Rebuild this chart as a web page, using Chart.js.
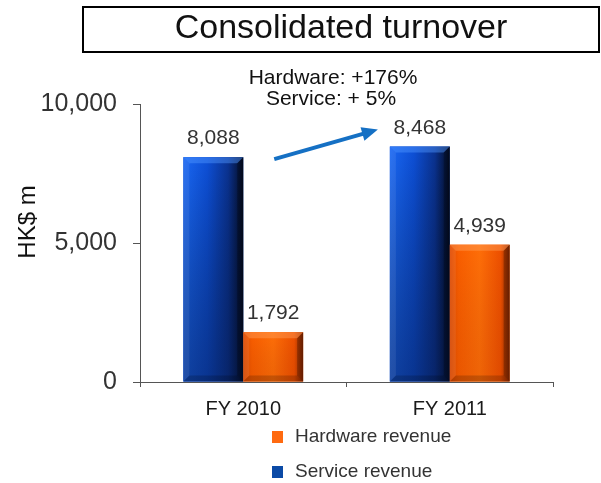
<!DOCTYPE html>
<html>
<head>
<meta charset="utf-8">
<title>Consolidated turnover</title>
<script src="https://cdn.jsdelivr.net/npm/chart.js@4.4.1/dist/chart.umd.min.js"></script>
<style>
  html, body { margin: 0; padding: 0; background: #fff; }
  #wrap { position: relative; width: 601px; height: 483px; overflow: hidden; }
  #title {
    position: absolute; left: 82px; top: 6px; width: 518px; height: 47px;
    box-sizing: border-box; border: 2px solid #000;
    font: 34px "Liberation Sans", Arial, sans-serif; color: #111;
    text-align: center; line-height: 37px;
  }
  #chart { position: absolute; left: 0; top: 0; }
</style>
</head>
<body>
<div id="wrap">
  <canvas id="chart" width="601" height="483"></canvas>
  <div id="title">Consolidated turnover</div>
</div>
<script>
const FONT = '"Liberation Sans", Arial, sans-serif';

const categories = ['FY 2010', 'FY 2011'];
const serviceRevenue = [8088, 8468];
const hardwareRevenue = [1792, 4939];
const yTicks = [0, 5000, 10000];
const growthNotes = ['Hardware: +176%', 'Service: + 5%'];

// face shading for the bevelled bars
const shades = {
  service: {
    base: '#0d47c0',
    stops: [[0, '#1a68f4'], [0.4, '#0d4fd6'], [0.75, '#0a3290'], [1, '#040c22']],
    top: 'rgba(80,150,255,0.45)',
    fade: 'rgba(5,20,60,0.45)'
  },
  hardware: {
    base: '#ff6400',
    stops: [[0, '#e04a00'], [0.15, '#fa5e00'], [0.5, '#ff6e08'], [0.85, '#ee5000'], [1, '#8a2800']],
    top: 'rgba(255,160,90,0.45)',
    fade: 'rgba(120,30,0,0.12)'
  }
};

const fmt = v => v.toLocaleString('en-US');

const bevelBars = {
  id: 'bevelBars',
  afterDatasetsDraw(chart) {
    const ctx = chart.ctx;
    chart.data.datasets.forEach((ds, i) => {
      const pal = shades[ds.key];
      chart.getDatasetMeta(i).data.forEach((bar, j) => {
        const {x, y, base, width} = bar.getProps(['x', 'y', 'base', 'width'], true);
        const l = x - width / 2, r = x + width / 2, t = y, b = base, e = 6;
        ctx.save();
        const g = ctx.createLinearGradient(l, 0, r, 0);
        pal.stops.forEach(s => g.addColorStop(s[0], s[1]));
        ctx.fillStyle = g;
        ctx.fillRect(l, t, width, b - t);
        // darker towards the baseline
        const v = ctx.createLinearGradient(0, t, 0, b);
        v.addColorStop(0, 'rgba(0,0,0,0)');
        v.addColorStop(1, pal.fade);
        ctx.fillStyle = v;
        ctx.fillRect(l, t, width, b - t);
        // top bevel
        ctx.fillStyle = pal.top;
        ctx.beginPath();
        ctx.moveTo(l, t); ctx.lineTo(r, t); ctx.lineTo(r - e, t + e); ctx.lineTo(l + e, t + e);
        ctx.closePath(); ctx.fill();
        // left bevel
        ctx.fillStyle = 'rgba(255,255,255,0.08)';
        ctx.beginPath();
        ctx.moveTo(l, t); ctx.lineTo(l + e, t + e); ctx.lineTo(l + e, b - e); ctx.lineTo(l, b);
        ctx.closePath(); ctx.fill();
        // right and bottom bevels
        ctx.fillStyle = 'rgba(0,0,0,0.25)';
        ctx.beginPath();
        ctx.moveTo(r, t); ctx.lineTo(r - e, t + e); ctx.lineTo(r - e, b - e); ctx.lineTo(r, b);
        ctx.closePath(); ctx.fill();
        ctx.fillStyle = 'rgba(0,0,0,0.18)';
        ctx.beginPath();
        ctx.moveTo(l, b); ctx.lineTo(l + e, b - e); ctx.lineTo(r - e, b - e); ctx.lineTo(r, b);
        ctx.closePath(); ctx.fill();

        // value label
        ctx.fillStyle = '#333';
        ctx.font = '21px ' + FONT;
        ctx.textAlign = 'center';
        ctx.textBaseline = 'alphabetic';
        ctx.fillText(fmt(ds.data[j]), x, t - 13);
        ctx.restore();
      });
    });
  },
  afterDraw(chart) {
    const ctx = chart.ctx;
    const yScale = chart.scales.y;
    const svc = chart.getDatasetMeta(0).data;
    ctx.save();

    // growth notes and arrow between the service bars
    ctx.fillStyle = '#111';
    ctx.font = '21px ' + FONT;
    ctx.textAlign = 'center';
    ctx.textBaseline = 'middle';
    ctx.fillText(growthNotes[0], 333, 78);
    ctx.fillText(growthNotes[1], 331, 99);

    const x0 = svc[0].x + svc[0].width / 2 + 31, y0 = yScale.getPixelForValue(serviceRevenue[0]) + 2;
    const x1 = svc[1].x - svc[1].width / 2 - 12, y1 = yScale.getPixelForValue(serviceRevenue[1]) - 17;
    const ang = Math.atan2(y1 - y0, x1 - x0);
    ctx.strokeStyle = '#1570c4';
    ctx.fillStyle = '#1570c4';
    ctx.lineWidth = 4;
    ctx.beginPath();
    ctx.moveTo(x0, y0);
    ctx.lineTo(x1 - 12 * Math.cos(ang), y1 - 12 * Math.sin(ang));
    ctx.stroke();
    ctx.beginPath();
    ctx.moveTo(x1, y1);
    ctx.lineTo(x1 - 16 * Math.cos(ang) + 7 * Math.sin(ang), y1 - 16 * Math.sin(ang) - 7 * Math.cos(ang));
    ctx.lineTo(x1 - 16 * Math.cos(ang) - 7 * Math.sin(ang), y1 - 16 * Math.sin(ang) + 7 * Math.cos(ang));
    ctx.closePath();
    ctx.fill();

    // y axis title
    ctx.save();
    ctx.translate(28, 222);
    ctx.rotate(-Math.PI / 2);
    ctx.fillStyle = '#111';
    ctx.font = '24px ' + FONT;
    ctx.fillText('HK$ m', 0, 0);
    ctx.restore();

    // legend, hardware listed first
    ctx.font = '19px ' + FONT;
    ctx.textAlign = 'left';
    ctx.textBaseline = 'middle';
    const rows = chart.data.datasets.slice().reverse();
    rows.forEach((ds, i) => {
      const cy = 437 + i * 35;
      ctx.fillStyle = ds.key === 'hardware' ? '#ff6a10' : '#0b4aa6';
      ctx.fillRect(272, cy - 6, 11, 12);
      ctx.fillStyle = '#333';
      ctx.fillText(ds.label, 295, cy);
    });
    ctx.restore();
  }
};

new Chart(document.getElementById('chart'), {
  type: 'bar',
  data: {
    labels: categories,
    datasets: [
      { key: 'service', label: 'Service revenue', data: serviceRevenue, backgroundColor: shades.service.base },
      { key: 'hardware', label: 'Hardware revenue', data: hardwareRevenue, backgroundColor: shades.hardware.base }
    ]
  },
  options: {
    responsive: false,
    animation: false,
    layout: { padding: { left: 0, right: 48, top: 104, bottom: 52 } },
    datasets: { bar: { categoryPercentage: 0.58, barPercentage: 1 } },
    plugins: {
      legend: { display: false },
      title: { display: false },
      tooltip: { enabled: false }
    },
    scales: {
      x: {
        grid: { drawOnChartArea: false, tickLength: 5, color: '#555', offset: true },
        border: { color: '#555', width: 1 },
        ticks: { font: { size: 20, family: FONT }, color: '#1a1a1a', padding: 10 }
      },
      y: {
        min: 0,
        max: 10000,
        afterBuildTicks: s => { s.ticks = yTicks.map(v => ({ value: v })); },
        afterFit: s => { s.width = 140; },
        grid: { drawOnChartArea: false, tickLength: 7, color: '#555' },
        border: { color: '#555', width: 1 },
        ticks: { font: { size: 25, family: FONT }, color: '#333', padding: 16, callback: v => fmt(v) }
      }
    }
  },
  plugins: [bevelBars]
});
</script>
</body>
</html>
